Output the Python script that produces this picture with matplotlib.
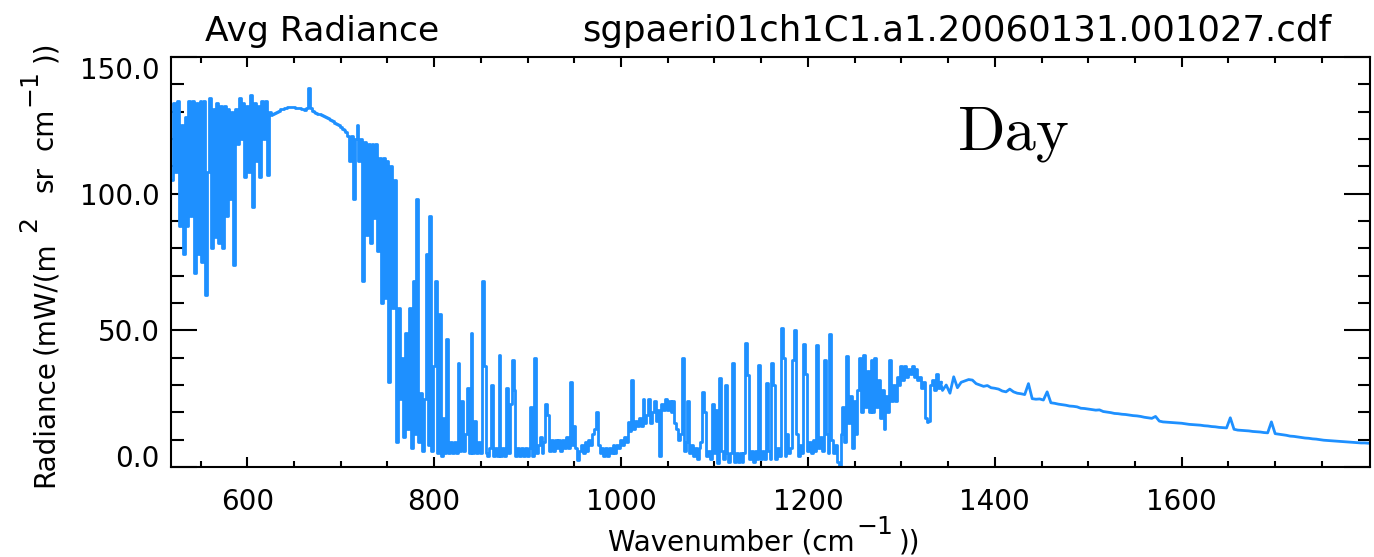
import numpy as np
import matplotlib
matplotlib.use("Agg")
import matplotlib.pyplot as plt
from matplotlib.ticker import FixedLocator, FixedFormatter

# ---------------- data (radiance, mW/(m^2 sr cm^-1)) ----------------
# 520-624 cm-1, step 2 (CO2 / H2O wing, strong lines)
rad_520 = [105, 133, 108, 134, 88, 125, 78, 128, 88, 134,
           92, 134, 71, 133, 78, 134, 75, 134, 63, 108,
           135, 80, 131, 84, 133, 82, 132, 80, 132, 92,
           131, 98, 130, 74, 131, 118, 135, 120, 133, 106,
           132, 108, 136, 95, 133, 112, 132, 106, 134, 120,
           134, 107, 130]
# 626-706 cm-1, step 2 (opaque CO2 band centre)
rad_626 = [128.6, 129.0, 129.5, 130.0, 130.4, 130.8, 131.1, 131.3, 131.5, 131.6,
           131.7, 131.7, 131.6, 131.5, 131.4, 131.2, 131.0, 130.8, 130.6, 131.2,
           138.5, 131.5, 130.2, 129.9, 129.6, 129.3, 129.0, 128.7, 128.4, 128.1,
           127.8, 127.4, 127.0, 126.5, 126.0, 125.5, 125.0, 124.4, 123.8, 123.2,
           122.6]
# 708-856 cm-1, step 2 (band edge)
rad_708 = [121, 112, 121, 98, 120, 125, 112, 120, 68, 119,
           85, 118, 82, 118, 91, 118, 79, 113, 60, 113,
           62, 112, 31, 110, 58, 105, 9, 58, 25, 40,
           11, 49, 14, 58, 7, 68, 12, 98, 9, 27,
           6, 25, 78, 8, 92, 6, 37, 68, 5, 56,
           4, 18, 5, 47, 5, 9, 5, 9, 5, 38,
           6, 24, 6, 12, 29, 5, 49, 5, 17, 5,
           9, 5, 68, 37, 5]
# 858-1082 cm-1, step 2 (window + ozone)
rad_858 = [4, 7, 30, 4, 7, 4, 41, 4, 7, 4,
           29, 5, 23, 39, 28, 4, 7, 4, 7, 4,
           7, 4, 7, 22, 4, 40, 5, 8, 11, 5,
           9, 23, 19, 6, 10, 6, 10, 7, 10, 6,
           10, 7, 11, 7, 31, 8, 15, 7, 2.5, 6,
           8, 5, 9, 6, 10, 8, 12, 14, 20, 8,
           5, 7, 4, 7, 4, 7, 5, 8, 5, 8,
           7, 10, 8, 11, 9, 16.5, 13, 32, 14, 17,
           15, 18, 15, 25, 16, 19, 25, 16, 20, 24,
           17, 21, 4, 23, 21, 25, 21, 24, 20, 24,
           16, 14, 10, 12, 40, 6, 9, 24, 5, 8,
           4, 7, 3]
# 1084-1342 cm-1, step 2
rad_1084 = [7, 9, 27.6, 20, 4, 6, 3, 23, 5, 21,
            1.5, 32.4, 6, 3, 30, 5, 2, 5, 37.9, 2,
            5, 2, 5, 2, 5, 45.2, 33.6, 3, 6, 2,
            6, 3, 37.3, 3, 6, 3, 30.6, 6, 3, 37.9,
            30, 3, 7, 4, 50.7, 40, 4, 12, 5, 7,
            39, 50, 12, 4, 8, 5, 45, 34, 6, 9,
            5, 10, 6, 44.6, 7, 11, 6, 39, 12, 5,
            48.5, 10, 5, 8, 2, 0.5, 12, 22, 9, 40.7,
            16, 26, 7, 24, 12, 28, 40, 20, 41, 22,
            35, 20, 39, 20, 40, 22, 32, 18, 28, 14,
            26, 20, 39, 24, 30, 24, 33, 30, 37, 32,
            37, 33, 36, 34, 37, 33, 36, 32, 33, 29,
            31, 18, 16.6, 17, 30, 32, 28, 34, 29, 31]
# 1344-1800 cm-1, step 4 (water vapour band wing, smooth)
rad_1344 = [28, 30, 27, 33, 29, 31, 31.5, 32, 31.8, 30.5,
            30, 29.5, 29.8, 29, 28.8, 28.5, 27.8, 27.5, 28.5, 27.5,
            27, 26.8, 26.5, 30.5, 25, 24.8, 24.9, 24.5, 27.5, 23.5,
            23.3, 23, 22.8, 22.6, 22.3, 22.2, 22, 21.5, 21.4, 21.2,
            21, 20.8, 20.9, 20.3, 20.1, 19.9, 19.6, 19.5, 19.3, 19.2,
            19, 18.8, 18.7, 18.5, 18.2, 18, 17.8, 18.5, 16.8, 16.5,
            16.4, 16.3, 16.2, 16.1, 16, 15.8, 15.6, 15.5, 15.4, 15.3,
            15.1, 15, 14.8, 14.7, 14.5, 14.4, 14.3, 18, 13.8, 13.5,
            13.4, 13.3, 13.2, 13, 12.9, 12.8, 12.6, 12.5, 16.5, 12.2,
            12, 11.8, 11.6, 11.3, 11.2, 11, 10.8, 10.6, 10.5, 10.3,
            10.2, 10, 9.8, 9.7, 9.6, 9.5, 9.4, 9.3, 9.2, 9.1,
            9, 8.9, 8.8, 8.8, 8.7]

dense_segments = [(520, 2, rad_520), (626, 2, rad_626), (708, 2, rad_708),
                  (858, 2, rad_858), (1084, 2, rad_1084)]
smooth_segment = (1344, 4, rad_1344)

x_major = [600, 800, 1000, 1200, 1400, 1600]
x_minor = [550, 650, 700, 750, 850, 900, 950, 1050, 1100, 1150,
           1250, 1300, 1350, 1450, 1500, 1550, 1650, 1700, 1750]
y_major = [0, 50, 100, 150]
y_major_labels = ["0.0", "50.0", "100.0", "150.0"]
y_minor = [10, 20, 30, 40, 60, 70, 80, 90, 110, 120, 130, 140]

wn_d = np.concatenate([s + st * np.arange(len(v)) for s, st, v in dense_segments])
rad_d = np.concatenate([np.asarray(v, float) for _, _, v in dense_segments])
s0, st0, v0 = smooth_segment
wn_s = np.concatenate([[wn_d[-1]], s0 + st0 * np.arange(len(v0))])
rad_s = np.concatenate([[rad_d[-1]], np.asarray(v0, float)])

# ---------------- figure ----------------
W, H = 1374, 557
fig = plt.figure(figsize=(W / 100, H / 100), dpi=100)
ax = fig.add_axes([171 / W, 1 - 467 / H, (1370 - 171) / W, (467 - 57) / H])

blue = "#1E90FF"
ax.plot(wn_d, rad_d, color=blue, lw=2.0, drawstyle="steps-mid")
ax.plot(wn_s, rad_s, color=blue, lw=2.0)

ax.set_xlim(518.4, 1801.5)
ax.set_ylim(0, 150)

ax.xaxis.set_major_locator(FixedLocator(x_major))
ax.xaxis.set_minor_locator(FixedLocator(x_minor))
ax.yaxis.set_major_locator(FixedLocator(y_major))
ax.yaxis.set_major_formatter(FixedFormatter(y_major_labels))
ax.yaxis.set_minor_locator(FixedLocator(y_minor))

for s in ax.spines.values():
    s.set_linewidth(1.5)

ax.tick_params(axis="both", which="both", direction="in", width=1.5,
               top=True, right=True, labelsize=20)
ax.tick_params(axis="x", which="major", length=7.5, pad=15)
ax.tick_params(axis="x", which="minor", length=4.5)
ax.tick_params(axis="y", which="major", length=18.5, pad=8)
ax.tick_params(axis="y", which="minor", length=9)

fig.canvas.draw()
ylabs = ax.get_yticklabels()
ylabs[0].set_verticalalignment("baseline")
ylabs[-1].set_verticalalignment("top")

# titles
fig.text(205 / W, 1 - 41 / H, "Avg Radiance", fontsize=24.8,
         ha="left", va="baseline")
fig.text(582 / W, 1 - 41 / H, "sgpaeri01ch1C1.a1.20060131.001027.cdf",
         fontsize=25.6, ha="left", va="baseline")

renderer = fig.canvas.get_renderer()


def place_pieces(pieces, x0, y0):
    """Horizontal label pieces: (text, fontsize, rise_px, gap_before_px)."""
    pos = x0
    for text, size, rise, gap in pieces:
        pos += gap
        t = fig.text(pos / W, (H - y0 + rise) / H, text, fontsize=size,
                     ha="left", va="baseline")
        pos = t.get_window_extent(renderer).x1


xl_pieces = [("Wavenumber (cm", 20, 0, 0), ("\u22121", 18, 16, 2), ("))", 20, 0, 5)]
place_pieces(xl_pieces, 608, 550)

# rotated y label pieces: (text, fontsize, rise_px, start_y_px)
yl_pieces = [("Radiance", 20, 0, 487), ("(mW/(m", 20, 0, 354),
             ("2", 18, 17, 232), ("sr", 20, 0, 192), ("cm", 20, 0, 150),
             ("\u22121", 18, 17, 106), ("))", 20, 0, 62)]
for text, size, rise, ystart in yl_pieces:
    fig.text((53 - rise) / W, (H - ystart) / H, text, fontsize=size,
             rotation=90, rotation_mode="anchor", ha="left", va="baseline")

fig.text(958 / W, 1 - 150 / H, "Day", fontsize=45, family="cmr10",
         ha="left", va="baseline")

fig.savefig("out.png", dpi=100)
